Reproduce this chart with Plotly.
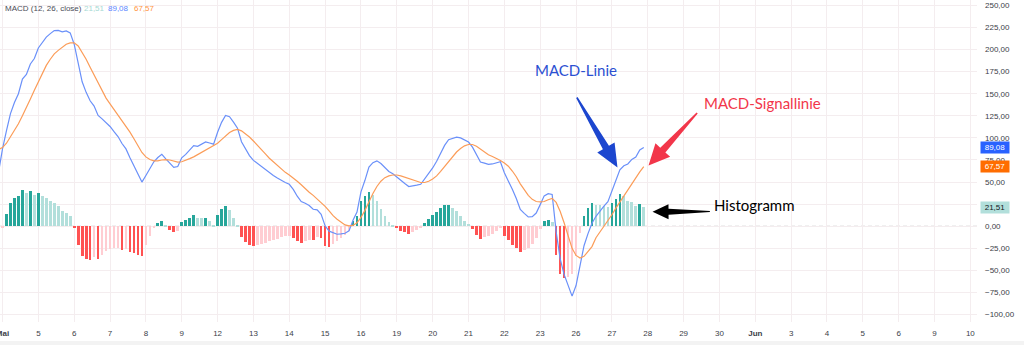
import plotly.graph_objects as go

# ---------------------------------------------------------------------------
# MACD (12, 26, close) on hourly bars, 9 bars per trading session.
# Bar index 0 is the first bar of 2 May; index -1 is the last bar before it.
# ---------------------------------------------------------------------------
BARS_PER_DAY = 9
FIRST_BAR = -1

# signal line (EMA 9 of the MACD line)
signal = [
    87, 89, 94, 101, 108, 116, 125, 134, 144, 154,
    164, 173, 182, 189, 195, 199, 203, 206, 207.5, 207.5,
    204, 197, 189, 180, 171, 162, 153.5, 145, 138.5, 132,
    126, 120, 113.5, 106.5, 99, 91.5, 83.5, 78.5, 75.5, 74,
    74, 75, 75.5, 75, 73.5, 72.5, 73, 74.5, 76.5, 78.5,
    81, 83.5, 86, 88.5, 91, 94, 98, 102, 106, 108.5,
    109.5, 108, 105, 101, 96.5, 92, 87, 82, 77, 73,
    68.5, 64, 61, 58, 55, 51, 47, 42.5, 38.5, 35,
    31, 27, 22.5, 17.5, 12, 8, 4.5, 1.5, 0.5, 1,
    4, 10, 18, 28, 37, 45, 51, 55, 57, 58,
    58, 57, 55.5, 53.5, 52, 50.5, 49.5, 49.5, 51, 53.5,
    57, 62, 67.5, 73.5, 79, 84, 88, 91, 92.5, 92.5,
    90.5, 87, 83.5, 81, 79, 77, 74.5, 71.5, 68, 62.5,
    56, 48, 41, 35, 30.5, 28, 27.5, 28, 30, 31.5,
    27, 17, 4, -10, -25, -33, -36, -34, -29, -23,
    -13, -6.5, -0.5, 5.5, 13, 20.5, 27.5, 34.5, 41.5, 48.5,
    55, 61.5, 67.57,
]

# histogram (MACD line minus signal line)
hist = [
    -26, -1.5, 14.3, 26.4, 32, 34, 41.5, 37.7, 39.6, 35.8,
    37.7, 34.7, 32, 29, 26.4, 22.6, 17, 15, 11.3, -1.5,
    -21.5, -33.5, -37.5, -38, -35, -36.6, -32, -28, -25.6, -25,
    -24.5, -26.4, -26, -29, -30.5, -32, -33.5, -21, -11, -1,
    3.8, 6.4, 0.8, -3.8, -6.8, -4.9, 4.5, 6.8, 9.4, 12.8,
    9.4, 9, 9.4, 5.7, 1.9, 12.4, 19.6, 23.4, 18, 9.4,
    1.5, -12.4, -17.5, -21, -22, -21, -20, -18.5, -17, -15.5,
    -14, -12.5, -11.5, -10.5, -13.2, -17, -19, -16.5, -15, -15.8,
    -12.5, -13.5, -22, -23, -19.6, -17, -13, -9.4, -5.7, 5.7,
    12, 29, 34, 39, 35, 29, 20, 12, 5, 1.5,
    -2.5, -5.5, -7, -8.5, -6.5, -4, -2, 4, 8, 12.5,
    16.6, 20.5, 24, 24.5, 20.7, 16.8, 12, 6.5, 2.8, -3,
    -9.4, -14.3, -12, -11, -8.5, -5, -1.5, -11, -16, -20.7,
    -24.5, -29, -26.4, -24.5, -19.6, -13, -3, 6.4, 6.8, 4.5,
    -33, -53.5, -58.4, -57, -54, -34, -8, 12, 20.7, 26.4,
    24.3, 24, 23.4, 22.3, 26.7, 31.2, 36.3, 34, 29, 27.2,
    23.3, 24.9, 21.51,
]

# one label per session start (May 2025 / June 2025)
day_labels = [
    "<b>Mai</b>", "5", "6", "7", "8", "9", "12", "13", "14", "15", "16",
    "19", "20", "21", "22", "23", "26", "27", "28", "29", "30",
    "<b>Jun</b>", "3", "4", "5", "6", "9", "10",
]

bars = list(range(FIRST_BAR, FIRST_BAR + len(signal)))
macd = [round(s + h, 2) for s, h in zip(signal, hist)]

# TradingView histogram colouring: shade depends on sign and direction
UP_STRONG, UP_WEAK = "#26A69A", "#B2DFDB"
DN_WEAK, DN_STRONG = "#FFCDD2", "#FF5252"


def bar_color(k):
    h = hist[k]
    rising = k == 0 or h > hist[k - 1]
    if h >= 0:
        return UP_STRONG if rising else UP_WEAK
    return DN_WEAK if rising else DN_STRONG


hist_colors = [bar_color(k) for k in range(len(hist))]

MACD_BLUE = "#2962FF"
SIGNAL_ORANGE = "#FF6D00"

# ---------------------------------------------------------------------------
# geometry of the pane
# ---------------------------------------------------------------------------
FIG_W, FIG_H = 1024, 345
M_L, M_R, M_T, M_B = 0, 47, 0, 23
PLOT_W = FIG_W - M_L - M_R
PLOT_H = FIG_H - M_T - M_B
BAR_PX = 3.983                      # horizontal spacing of bars
X_LO = -2.5 / BAR_PX
X_HI = X_LO + PLOT_W / BAR_PX
Y_LO, Y_HI = -108.3, 256.0
Y_PX = PLOT_H / (Y_HI - Y_LO)

GRID = "#f4edef"
AXIS_TEXT = "#3b3e48"
TICK_FONT = dict(family="Liberation Sans, Arial, sans-serif", size=8, color=AXIS_TEXT)


def arrow_path(tail, tip, head_len, head_half, neck_half, tail_half):
    """Tapered arrow (data coords in, SVG path in data coords out)."""
    tx, ty = tail[0] * BAR_PX, -tail[1] * Y_PX
    hx, hy = tip[0] * BAR_PX, -tip[1] * Y_PX
    dx, dy = hx - tx, hy - ty
    length = (dx * dx + dy * dy) ** 0.5
    ux, uy = dx / length, dy / length
    nx, ny = -uy, ux
    bx, by = hx - ux * head_len, hy - uy * head_len
    pts = [
        (tx + nx * tail_half, ty + ny * tail_half),
        (bx + nx * neck_half, by + ny * neck_half),
        (bx + nx * head_half, by + ny * head_half),
        (hx, hy),
        (bx - nx * head_half, by - ny * head_half),
        (bx - nx * neck_half, by - ny * neck_half),
        (tx - nx * tail_half, ty - ny * tail_half),
    ]
    return "M " + " L ".join(f"{px / BAR_PX:.3f},{-py / Y_PX:.3f}" for px, py in pts) + " Z"


fig = go.Figure()

fig.add_trace(go.Bar(
    x=bars, y=hist, width=0.68,
    marker=dict(color=hist_colors, line=dict(width=0)),
    hoverinfo="skip",
))
fig.add_trace(go.Scatter(
    x=bars, y=macd, mode="lines",
    line=dict(color="#6a90f9", width=1.2),
    hoverinfo="skip",
))
fig.add_trace(go.Scatter(
    x=bars, y=signal, mode="lines",
    line=dict(color="#fb9c58", width=1.2),
    hoverinfo="skip",
))

shapes = [
    # dashed zero level
    dict(type="line", xref="paper", x0=0, x1=1, yref="y", y0=0, y1=0,
         line=dict(color="#bdbdbd", width=1, dash="4px,3px"), layer="below"),
    # strip under the time scale
    dict(type="rect", xref="paper", x0=0, x1=FIG_W / PLOT_W,
         yref="paper", y0=-(FIG_H - PLOT_H) / PLOT_H, y1=-(341 - PLOT_H) / PLOT_H,
         fillcolor="#f3f3f3", line=dict(width=0), layer="below"),
    # callout arrows
    dict(type="path", xref="x", yref="y",
         path=arrow_path((144.2, 145.7), (154.4, 66.5), 23, 10, 3.5, 0.8),
         fillcolor="#1c46cf", line=dict(width=0)),
    dict(type="path", xref="x", yref="y",
         path=arrow_path((174.4, 128.2), (162.2, 68.8), 21, 10, 3.5, 0.8),
         fillcolor="#f2364a", line=dict(width=0)),
    dict(type="path", xref="x", yref="y",
         path=arrow_path((177.6, 16.7), (163.2, 16.3), 16, 7.5, 3, 0.6),
         fillcolor="#000000", line=dict(width=0)),
]

CALLOUT_FONT = "Lato, 'Open Sans', sans-serif"
annotations = [
    dict(x=144, y=176.8, xref="x", yref="y", text="MACD-Linie", showarrow=False,
         font=dict(family=CALLOUT_FONT, size=15, color="#2b50d2")),
    dict(x=190.9, y=139.5, xref="x", yref="y", text="MACD-Signallinie", showarrow=False,
         font=dict(family=CALLOUT_FONT, size=15, color="#f2364a")),
    dict(x=188.7, y=24.1, xref="x", yref="y", text="Histogramm", showarrow=False,
         font=dict(family=CALLOUT_FONT, size=15, color="#000000")),
]

# indicator legend in the top-left corner
last_hist, last_macd, last_signal = hist[-1], macd[-1], signal[-1]


def de(v):
    return f"{v:.2f}".replace(".", ",")


legend_items = [
    (3, "MACD (12, 26, close)", "#4a4d57"),
    (82, de(last_hist), "#a6d9d3"),
    (106, de(last_macd), "#5a86ff"),
    (132, de(last_signal), "#ff9440"),
]
for px, txt, col in legend_items:
    annotations.append(dict(
        x=px / PLOT_W, y=1 - 8.5 / PLOT_H, xref="paper", yref="paper",
        xanchor="left", yanchor="middle", text=txt, showarrow=False,
        font=dict(family="Liberation Sans, Arial, sans-serif", size=8, color=col),
    ))

# last-value tags on the price scale
for val, bg, fg in [(last_macd, MACD_BLUE, "#ffffff"),
                    (last_signal, SIGNAL_ORANGE, "#ffffff"),
                    (last_hist, UP_WEAK, "#131722")]:
    annotations.append(dict(
        x=1, xref="paper", xanchor="left", xshift=3,
        y=val, yref="y", yanchor="middle",
        text=de(val), showarrow=False, bgcolor=bg, borderpad=0,
        width=28, height=11, align="center",
        font=dict(family="Liberation Sans, Arial, sans-serif", size=8, color=fg),
    ))

fig.update_layout(
    width=FIG_W, height=FIG_H,
    margin=dict(l=M_L, r=M_R, t=M_T, b=M_B),
    plot_bgcolor="#ffffff", paper_bgcolor="#ffffff",
    showlegend=False, hovermode=False, bargap=0,
    separators=",.",
    shapes=shapes, annotations=annotations,
    xaxis=dict(
        range=[X_LO, X_HI],
        tickmode="array",
        tickvals=[k * BARS_PER_DAY for k in range(len(day_labels))],
        ticktext=day_labels,
        showgrid=True, gridcolor=GRID, gridwidth=1,
        zeroline=False, showline=False, ticks="",
        ticklabelstandoff=5, tickfont=TICK_FONT,
        ticklabeloverflow="allow", automargin=False,
    ),
    yaxis=dict(
        side="right", range=[Y_LO, Y_HI],
        tickmode="linear", tick0=0, dtick=25, tickformat=".2f",
        showgrid=True, gridcolor=GRID, gridwidth=1,
        zeroline=False, showline=False, ticks="",
        ticklabelstandoff=7, tickfont=TICK_FONT,
        automargin=False,
    ),
)

fig.write_html("out.html")
